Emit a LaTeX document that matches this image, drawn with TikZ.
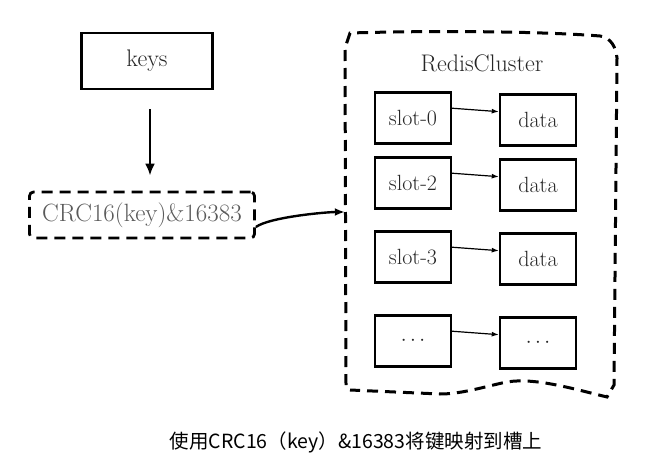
\documentclass[tikz,border=0pt]{standalone}
\usepackage{fontspec}
\newfontfamily\cjk{Noto Sans CJK SC}
\usepackage{tikz}
\usetikzlibrary{calc, arrows.meta}

\begin{document}
\begin{tikzpicture}[>={Latex[length=12pt,width=10pt]}, x=1pt, y=-1pt,
    box/.style={draw, line width=2.4pt, minimum width=76pt, minimum height=51pt,
        font=\fontsize{22}{26}\selectfont, text=black!85},
    dashbox/.style={draw, line width=2.8pt, dash pattern=on 11pt off 7pt},
    link/.style={-{Latex[length=7pt,width=5pt]}, line width=1.2pt}]
    \useasboundingbox (0,0) rectangle (658,476);

    % Khối đầu vào
    \node[box, minimum width=131pt, minimum height=56pt, font=\fontsize{24}{28}\selectfont]
        (keys) at (147,61) {keys};
    \node[dashbox, rounded corners=4pt, minimum width=225pt, minimum height=46pt,
        font=\fontsize{25}{28}\selectfont, text=black!65] (crc) at (142,215) {CRC16(key)\&16383};
    \draw[->, line width=2.4pt, shorten <=19pt, shorten >=15pt]
        ([xshift=3pt]keys.south) -- ([xshift=3pt]keys.south |- crc.north);

    % Cụm Redis
    \node[minimum width=272pt, minimum height=360pt] (cluster) at (481,212) {};
    \draw[dashbox, line width=3pt]
        (346,385) -- (345,48) -- (350,33) .. controls (450,30) and (550,32) .. (600,36)
        to[out=-8,in=95] (617,58) -- (614,385) -- (607,397)
        .. controls (570,388) and (530,376) .. (502,383)
        .. controls (480,388) and (460,394) .. (440,394) -- (350,390);
    \node[font=\fontsize{24}{28}\selectfont, text=black!85] (title) at (482,63) {RedisCluster};
    \draw[->, line width=2.4pt, >={Latex[length=10pt,width=8pt]}]
        (crc.-6) to[out=35,in=180, looseness=0.5] (cluster.west);

    % Các slot và dữ liệu
    \foreach \slot/\val/\y [count=\i] in {slot-0/data/118, slot-2/data/183,
        slot-3/data/257, $\cdots$/$\cdots$/341} {
        \node[box] (s\i) at (413,\y) {\slot};
        \node[box] (d\i) at (538,\y+2) {\val};
        \draw[link] (s\i.14) -- (d\i.168);
    }

    % Chú thích
    \node[font=\cjk\fontsize{19.5}{22}\selectfont] (caption) at (356,442)
        {使用CRC16（key）\&16383将键映射到槽上};
\end{tikzpicture}
\end{document}
